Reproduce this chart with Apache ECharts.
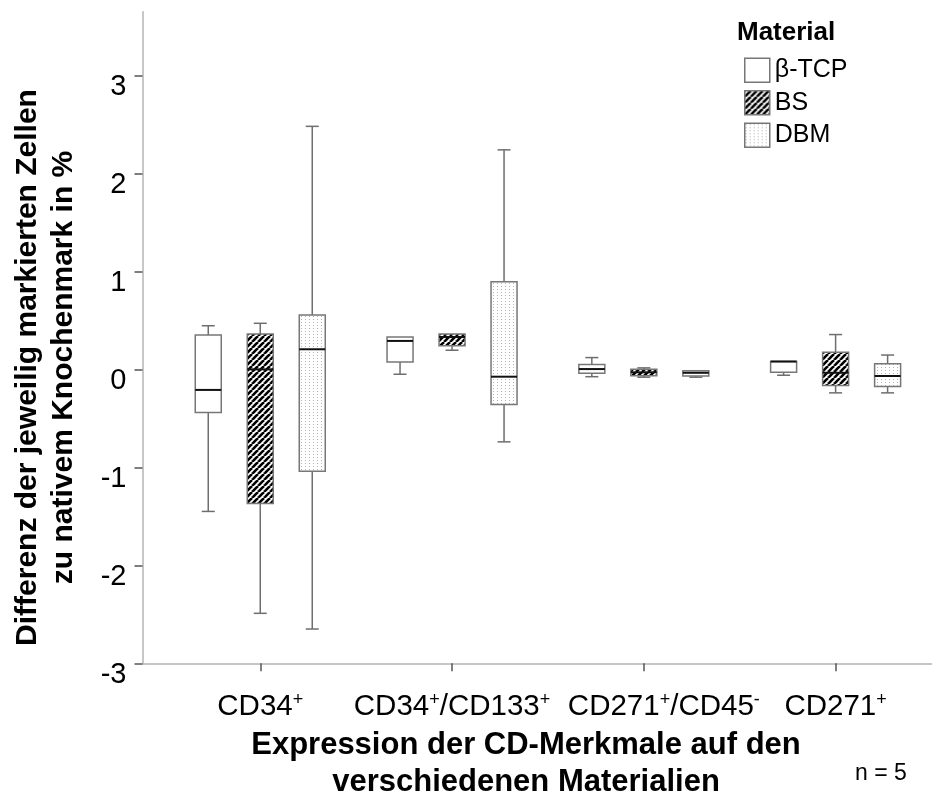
<!DOCTYPE html>
<html>
<head>
<meta charset="utf-8">
<script src="https://cdn.jsdelivr.net/npm/echarts@6/dist/echarts.min.js"></script>
<style>
  html, body { margin: 0; padding: 0; background: #fff; }
  #chart { width: 945px; height: 796px; }
</style>
</head>
<body>
<div id="chart"></div>
<script>
// Categories on the x axis (trailing +/- are set as superscripts)
const categories = ['CD34+', 'CD34+/CD133+', 'CD271+/CD45-', 'CD271+'];
const materials = ['β-TCP', 'BS', 'DBM'];

// Five-number summaries per category: [min, q1, median, q3, max]
const tcpStats = [
  [-1.45, -0.44, -0.21, 0.35, 0.445],
  [-0.05, 0.075, 0.29, 0.33, 0.33],
  [-0.075, -0.04, 0.003, 0.05, 0.12],
  [-0.06, -0.03, 0.08, 0.08, 0.08]
];
const bsStats = [
  [-2.49, -1.37, 0.0, 0.36, 0.47],
  [0.195, 0.24, 0.33, 0.36, 0.36],
  [-0.08, -0.065, -0.03, 0.0, 0.015],
  [-0.24, -0.165, -0.035, 0.175, 0.355]
];
const dbmStats = [
  [-2.65, -1.04, 0.205, 0.555, 2.48],
  [-0.74, -0.36, -0.075, 0.895, 2.24],
  [-0.08, -0.068, -0.035, -0.014, -0.014],
  [-0.24, -0.175, -0.068, 0.057, 0.146]
];

const yTicks = [-3, -2, -1, 0, 1, 2, 3];
const sampleNote = 'n = 5';

const FONT = 'Arial, "Liberation Sans", sans-serif';
const BOX_WIDTH = 26;
const BOX_SPACING = 52;
const CAP_WIDTH = 13;

// Fill patterns
function makeHatch() {
  const c = document.createElement('canvas');
  c.width = 6; c.height = 6;
  const g = c.getContext('2d');
  g.fillStyle = '#fff';
  g.fillRect(0, 0, 6, 6);
  g.strokeStyle = '#000';
  g.lineWidth = 2.6;
  for (let k = -1; k <= 2; k++) {
    const cst = k * 6;
    g.beginPath();
    g.moveTo(cst + 6, 0);
    g.lineTo(cst, 6);
    g.stroke();
  }
  return { image: c, repeat: 'repeat' };
}
function makeDots() {
  const c = document.createElement('canvas');
  c.width = 4; c.height = 3;
  const g = c.getContext('2d');
  g.fillStyle = '#fff';
  g.fillRect(0, 0, 4, 3);
  g.fillStyle = '#b4b4b4';
  g.fillRect(1, 1, 1, 1);
  return { image: c, repeat: 'repeat' };
}
const fills = ['#ffffff', makeHatch(), makeDots()];
const allStats = [tcpStats, bsStats, dbmStats];

function boxRenderer(slot) {
  return function (params, api) {
    const cat = api.value(0);
    const cx = api.coord([cat, 0])[0] + (slot - 1) * BOX_SPACING;
    const y = (i) => api.coord([cat, api.value(i)])[1];
    const yMin = y(1), yQ1 = y(2), yMed = y(3), yQ3 = y(4), yMax = y(5);
    const half = BOX_WIDTH / 2, cap = CAP_WIDTH / 2;
    const lineStyle = { stroke: '#6e6e6e', lineWidth: 1.5, fill: null };
    const children = [];
    if (yMax < yQ3 - 0.5) {
      children.push({ type: 'line', shape: { x1: cx, y1: yQ3, x2: cx, y2: yMax }, style: lineStyle });
      children.push({ type: 'line', shape: { x1: cx - cap, y1: yMax, x2: cx + cap, y2: yMax }, style: lineStyle });
    }
    if (yMin > yQ1 + 0.5) {
      children.push({ type: 'line', shape: { x1: cx, y1: yQ1, x2: cx, y2: yMin }, style: lineStyle });
      children.push({ type: 'line', shape: { x1: cx - cap, y1: yMin, x2: cx + cap, y2: yMin }, style: lineStyle });
    }
    children.push({
      type: 'rect',
      shape: { x: cx - half, y: yQ3, width: BOX_WIDTH, height: Math.max(yQ1 - yQ3, 1) },
      style: { fill: fills[slot], stroke: '#777', lineWidth: 1.5 }
    });
    children.push({
      type: 'line',
      shape: { x1: cx - half, y1: yMed, x2: cx + half, y2: yMed },
      style: { stroke: '#111', lineWidth: 2 }
    });
    return { type: 'group', children };
  };
}

const chart = echarts.init(document.getElementById('chart'), null, { renderer: 'canvas' });

chart.setOption({
  animation: false,
  backgroundColor: '#fff',
  textStyle: { fontFamily: FONT },
  title: {
    text: 'Material',
    left: 737, top: 20, padding: 0,
    textStyle: { fontSize: 26, fontWeight: 'bold', color: '#000', fontFamily: FONT }
  },
  legend: {
    orient: 'vertical',
    left: 744, top: 57.5,
    padding: 0,
    itemWidth: 25, itemHeight: 24,
    itemGap: 7,
    selectedMode: false,
    textStyle: { fontSize: 25, color: '#000', fontFamily: FONT },
    data: materials.map((m, i) => ({
      name: m,
      icon: 'rect',
      itemStyle: { color: fills[i], borderColor: '#777', borderWidth: 1.5 }
    }))
  },
  grid: {
    left: 142.5, right: 13.5, top: 11.7, bottom: 132.7,
    containLabel: false,
    outerBoundsMode: 'none'
  },
  xAxis: {
    type: 'value',
    min: -0.614, max: 3.5,
    splitLine: { show: false },
    axisLine: { show: true, onZero: false, lineStyle: { color: '#b4b4b4', width: 1.5 } },
    axisTick: { show: true, length: 8, customValues: [0, 1, 2, 3], lineStyle: { color: '#555', width: 1.5 } },
    axisLabel: {
      customValues: [0, 1, 2, 3],
      margin: 28,
      formatter: (v) => {
        const label = categories[Math.round(v)];
        const pre = Math.round(v) === 2 ? '{g|}' : '';
        return pre + '{n|' + label.replace(/([+\-])/g, '}{s|$1}{n|') + '}';
      },
      rich: {
        n: { fontSize: 29.5, lineHeight: 32, color: '#000', fontFamily: FONT },
        s: { fontSize: 18, lineHeight: 18, verticalAlign: 'top', color: '#000', fontFamily: FONT },
        g: { width: 40 }
      }
    },
    name: 'Expression der CD-Merkmale auf den\nverschiedenen Materialien',
    nameLocation: 'middle',
    nameGap: 63,
    nameTextStyle: { fontSize: 31, fontWeight: 'bold', lineHeight: 37, color: '#000', fontFamily: FONT, padding: [0, 22, 0, 0] }
  },
  yAxis: {
    type: 'value',
    min: -3, max: 3.65, interval: 1,
    splitLine: { show: false },
    axisLine: { show: true, onZero: false, lineStyle: { color: '#b4b4b4', width: 1.5 } },
    axisTick: { show: true, length: 8, customValues: yTicks, lineStyle: { color: '#555', width: 1.5 } },
    axisLabel: {
      customValues: yTicks,
      margin: 16,
      verticalAlign: 'top',
      lineHeight: 23,
      fontSize: 29, color: '#000', fontFamily: FONT
    },
    name: 'Differenz der jeweilig markierten Zellen\nzu nativem Knochenmark in %',
    nameLocation: 'middle',
    nameRotate: 90,
    nameGap: 61,
    nameTextStyle: { fontSize: 30, fontWeight: 'bold', lineHeight: 36, color: '#000', fontFamily: FONT, padding: [0, 60, 0, 0] }
  },
  graphic: [{
    type: 'text',
    left: 855, top: 762,
    style: { text: sampleNote, fontSize: 23, fill: '#000', fontFamily: FONT }
  }],
  series: materials.map((m, slot) => ({
    name: m,
    type: 'custom',
    renderItem: boxRenderer(slot),
    encode: { x: 0, y: [1, 2, 3, 4, 5] },
    itemStyle: { color: slot === 0 ? '#fff' : (slot === 1 ? '#000' : '#ddd') },
    data: allStats[slot].map((s, i) => [i].concat(s))
  }))
});
</script>
</body>
</html>
